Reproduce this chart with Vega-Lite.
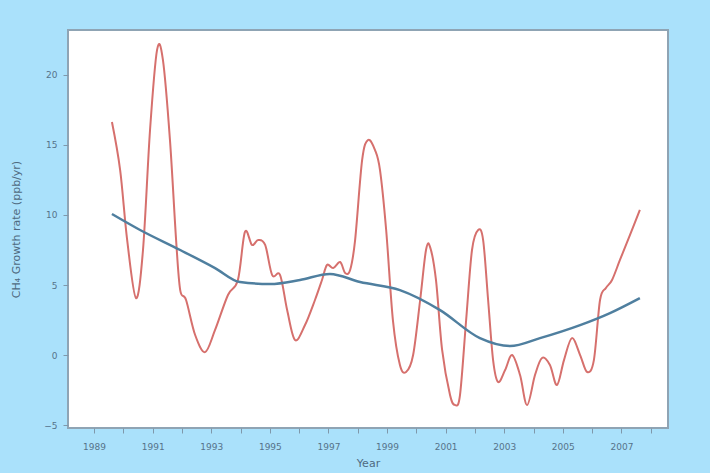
{
  "$schema": "https://vega.github.io/schema/vega-lite/v6.json",
  "autosize": "none",
  "width": 600,
  "height": 398,
  "padding": {"left": 68, "top": 30, "right": 42, "bottom": 45},
  "background": "#aae1fb",
  "config": {
    "view": {"fill": "white", "stroke": "#8fa4b4", "strokeWidth": 2},
    "axis": {"grid": false, "domain": false, "tickColor": "#7f98ab", "labelColor": "#56738a", "titleColor": "#4f6a80", "labelFont": "DejaVu Sans", "titleFont": "DejaVu Sans", "labelFontSize": 9, "titleFontSize": 11, "titleFontWeight": "normal", "tickSize": 5}
  },
  "datasets": {
    "raw": [
      {"year": 1989.61, "rate": 16.64},
      {"year": 1989.89, "rate": 13.21},
      {"year": 1990.13, "rate": 8.21},
      {"year": 1990.43, "rate": 4.07},
      {"year": 1990.67, "rate": 7.5},
      {"year": 1990.91, "rate": 16.07},
      {"year": 1991.15, "rate": 21.79},
      {"year": 1991.35, "rate": 21.07},
      {"year": 1991.59, "rate": 15.36},
      {"year": 1991.80, "rate": 8.21},
      {"year": 1991.94, "rate": 4.64},
      {"year": 1992.14, "rate": 3.93},
      {"year": 1992.45, "rate": 1.43},
      {"year": 1992.79, "rate": 0.21},
      {"year": 1993.13, "rate": 1.79},
      {"year": 1993.57, "rate": 4.29},
      {"year": 1993.91, "rate": 5.36},
      {"year": 1994.15, "rate": 8.79},
      {"year": 1994.39, "rate": 7.86},
      {"year": 1994.60, "rate": 8.21},
      {"year": 1994.84, "rate": 7.86},
      {"year": 1995.08, "rate": 5.71},
      {"year": 1995.35, "rate": 5.71},
      {"year": 1995.59, "rate": 3.21},
      {"year": 1995.86, "rate": 1.07},
      {"year": 1996.20, "rate": 2.14},
      {"year": 1996.54, "rate": 3.93},
      {"year": 1996.78, "rate": 5.36},
      {"year": 1996.95, "rate": 6.43},
      {"year": 1997.16, "rate": 6.21},
      {"year": 1997.40, "rate": 6.64},
      {"year": 1997.57, "rate": 5.86},
      {"year": 1997.74, "rate": 6.07},
      {"year": 1997.91, "rate": 8.21},
      {"year": 1998.15, "rate": 13.93},
      {"year": 1998.35, "rate": 15.36},
      {"year": 1998.59, "rate": 14.64},
      {"year": 1998.76, "rate": 13.21},
      {"year": 1998.97, "rate": 8.93},
      {"year": 1999.20, "rate": 2.5},
      {"year": 1999.44, "rate": -0.71},
      {"year": 1999.65, "rate": -1.21},
      {"year": 1999.89, "rate": 0},
      {"year": 2000.13, "rate": 3.93},
      {"year": 2000.33, "rate": 7.5},
      {"year": 2000.47, "rate": 7.71},
      {"year": 2000.67, "rate": 5.36},
      {"year": 2000.88, "rate": 0.36},
      {"year": 2001.15, "rate": -2.86},
      {"year": 2001.32, "rate": -3.57},
      {"year": 2001.49, "rate": -2.86},
      {"year": 2001.70, "rate": 2.5},
      {"year": 2001.90, "rate": 7.5},
      {"year": 2002.11, "rate": 8.93},
      {"year": 2002.28, "rate": 8.21},
      {"year": 2002.45, "rate": 3.93},
      {"year": 2002.62, "rate": -0.36},
      {"year": 2002.79, "rate": -1.93},
      {"year": 2003.03, "rate": -1.07},
      {"year": 2003.27, "rate": 0},
      {"year": 2003.54, "rate": -1.43},
      {"year": 2003.78, "rate": -3.57},
      {"year": 2004.05, "rate": -1.43},
      {"year": 2004.29, "rate": -0.21},
      {"year": 2004.56, "rate": -0.71},
      {"year": 2004.80, "rate": -2.14},
      {"year": 2005.04, "rate": -0.36},
      {"year": 2005.31, "rate": 1.21},
      {"year": 2005.59, "rate": 0},
      {"year": 2005.83, "rate": -1.21},
      {"year": 2006.06, "rate": -0.36},
      {"year": 2006.27, "rate": 3.93},
      {"year": 2006.47, "rate": 4.79},
      {"year": 2006.68, "rate": 5.36},
      {"year": 2006.95, "rate": 6.79},
      {"year": 2007.29, "rate": 8.57},
      {"year": 2007.63, "rate": 10.36}
    ],
    "trend": [
      {"year": 1989.61, "rate": 10.07},
      {"year": 1990.57, "rate": 8.93},
      {"year": 1991.94, "rate": 7.5},
      {"year": 1993.13, "rate": 6.21},
      {"year": 1993.98, "rate": 5.21},
      {"year": 1995.01, "rate": 5.07},
      {"year": 1996.03, "rate": 5.36},
      {"year": 1997.05, "rate": 5.79},
      {"year": 1998.08, "rate": 5.21},
      {"year": 1999.44, "rate": 4.64},
      {"year": 2000.81, "rate": 3.21},
      {"year": 2002.17, "rate": 1.21},
      {"year": 2003.20, "rate": 0.64},
      {"year": 2004.22, "rate": 1.21},
      {"year": 2005.59, "rate": 2.14},
      {"year": 2006.61, "rate": 3.0},
      {"year": 2007.63, "rate": 4.07}
    ]
  },
  "encoding": {
    "x": {"field": "year", "type": "quantitative", "scale": {"domain": [1988.11, 2008.59], "nice": false, "zero": false},
      "axis": {"title": "Year", "values": [1988,1989,1990,1991,1992,1993,1994,1995,1996,1997,1998,1999,2000,2001,2002,2003,2004,2005,2006,2007,2008], "labelExpr": "datum.value % 2 == 1 ? format(datum.value, 'd') : ''", "labelPadding": 9, "titlePadding": 6}},
    "y": {"field": "rate", "type": "quantitative", "scale": {"domain": [-5.21, 23.21], "nice": false, "zero": false},
      "axis": {"title": "CH₄ Growth rate (ppb/yr)", "values": [-5, 0, 5, 10, 15, 20], "labelPadding": 6, "titlePadding": 22}}
  },
  "layer": [
    {"data": {"name": "raw"}, "mark": {"type": "line", "color": "#d6706d", "strokeWidth": 2, "interpolate": "cardinal"}},
    {"data": {"name": "trend"}, "mark": {"type": "line", "color": "#4f7f9f", "strokeWidth": 2.5, "interpolate": "monotone"}}
  ]
}
